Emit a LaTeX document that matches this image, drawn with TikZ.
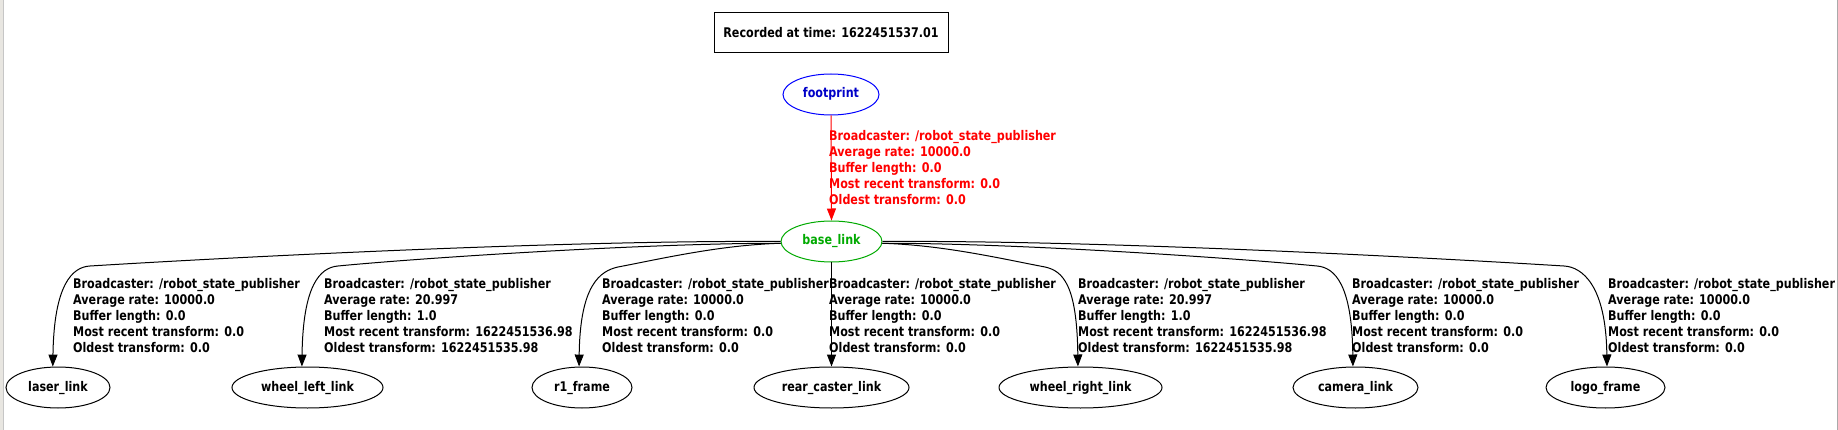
\documentclass[tikz,border=0pt]{standalone}
\usepackage{fontspec}
\setmainfont{DejaVu Sans}[FakeStretch=0.838]
\usetikzlibrary{arrows.meta,shapes.geometric}
\definecolor{gvgreen}{RGB}{0,170,0}
\definecolor{gvblue}{RGB}{0,0,255}
\definecolor{gvbluetext}{RGB}{0,0,200}
\definecolor{lgray}{RGB}{232,230,225}
\definecolor{rgray}{RGB}{170,170,170}
\begin{document}
\begin{tikzpicture}[x=1pt,y=-1pt,
  gvfont/.style={font=\fontsize{13.3}{16}\selectfont\bfseries},
  gvnode/.style={gvfont, draw, ellipse, line width=1pt, minimum height=41pt, inner sep=0pt, text height=10pt, text depth=3pt},
  gvbox/.style={gvfont, draw, rectangle, line width=1pt, minimum width=234pt, minimum height=40pt, inner sep=0pt},
  gvlabel/.style={gvfont, anchor=west, align=left, inner sep=0pt},
  gvedge/.style={line width=1pt, -{Triangle[length=12pt,width=9pt]}},
]
\useasboundingbox (0,0) rectangle (1838,430);
\fill[white] (0,0) rectangle (1838,430);
\fill[lgray] (0,0) rectangle (3,430);
\draw[gray!45, line width=1pt] (3.5,0) -- (3.5,430);
\fill[rgray] (1836.5,0) rectangle (1838,430);

% nodes
\node[gvbox] (rec) at (831,33) {Recorded at time: 1622451537.01};
\node[gvnode, draw=gvblue, text=gvbluetext, minimum width=96pt] (fp) at (831,94.5) {footprint};
\node[gvnode, draw=gvgreen, text=gvgreen, minimum width=101pt] (base) at (831.5,241.5) {base\_link};
\node[gvnode, minimum width=104pt] (laser) at (58,387.5) {laser\_link};
\node[gvnode, minimum width=151pt] (wleft) at (307.5,387.5) {wheel\_left\_link};
\node[gvnode, minimum width=100pt] (r1) at (582,387.5) {r1\_frame};
\node[gvnode, minimum width=155pt] (rear) at (831.5,387.5) {rear\_caster\_link};
\node[gvnode, minimum width=163pt] (wright) at (1080.5,387.5) {wheel\_right\_link};
\node[gvnode, minimum width=125pt] (cam) at (1355.5,387.5) {camera\_link};
\node[gvnode, minimum width=119pt] (logo) at (1605.5,387.5) {logo\_frame};

% edges
\draw[gvedge, red] (fp.south) -- (base.north);
\draw[gvedge] (base.180) .. controls (560,240) and (220,258) .. (90,266) .. controls (72,267) and (54,285) .. (laser.104);
\draw[gvedge] (base.182) .. controls (650,243) and (420,258) .. (338,266) .. controls (320,267.5) and (303,285) .. (wleft.105);
\draw[gvedge] (base.182) .. controls (720,245) and (660,259) .. (618,267) .. controls (600,271) and (580,285) .. (r1.98);
\draw[gvedge] (base.south) -- (rear.north);
\draw[gvedge] (base.358) .. controls (943,245) and (1003,259) .. (1045,267) .. controls (1063,271) and (1077,285) .. (wright.97);
\draw[gvedge] (base.358) .. controls (1013,243) and (1235,258) .. (1317,266) .. controls (1335,267.5) and (1352,285) .. (cam.97);
\draw[gvedge] (base.0) .. controls (1103,240) and (1434,258) .. (1564,266) .. controls (1582,267) and (1606,285) .. (logo.86);

% labels
\node[gvlabel, text=red] (lfp) at (829,169) {\strut Broadcaster: /robot\_state\_publisher\\\strut Average rate: 10000.0\\\strut Buffer length: 0.0\\\strut Most recent transform: 0.0\\\strut Oldest transform: 0.0};
\node[gvlabel] (llaser) at (73,317) {\strut Broadcaster: /robot\_state\_publisher\\\strut Average rate: 10000.0\\\strut Buffer length: 0.0\\\strut Most recent transform: 0.0\\\strut Oldest transform: 0.0};
\node[gvlabel] (lwleft) at (324,317) {\strut Broadcaster: /robot\_state\_publisher\\\strut Average rate: 20.997\\\strut Buffer length: 1.0\\\strut Most recent transform: 1622451536.98\\\strut Oldest transform: 1622451535.98};
\node[gvlabel] (lr1) at (602,317) {\strut Broadcaster: /robot\_state\_publisher\\\strut Average rate: 10000.0\\\strut Buffer length: 0.0\\\strut Most recent transform: 0.0\\\strut Oldest transform: 0.0};
\node[gvlabel] (lrear) at (829,317) {\strut Broadcaster: /robot\_state\_publisher\\\strut Average rate: 10000.0\\\strut Buffer length: 0.0\\\strut Most recent transform: 0.0\\\strut Oldest transform: 0.0};
\node[gvlabel] (lwright) at (1078,317) {\strut Broadcaster: /robot\_state\_publisher\\\strut Average rate: 20.997\\\strut Buffer length: 1.0\\\strut Most recent transform: 1622451536.98\\\strut Oldest transform: 1622451535.98};
\node[gvlabel] (lcam) at (1352,317) {\strut Broadcaster: /robot\_state\_publisher\\\strut Average rate: 10000.0\\\strut Buffer length: 0.0\\\strut Most recent transform: 0.0\\\strut Oldest transform: 0.0};
\node[gvlabel] (llogo) at (1608,317) {\strut Broadcaster: /robot\_state\_publisher\\\strut Average rate: 10000.0\\\strut Buffer length: 0.0\\\strut Most recent transform: 0.0\\\strut Oldest transform: 0.0};
\end{tikzpicture}
\end{document}
